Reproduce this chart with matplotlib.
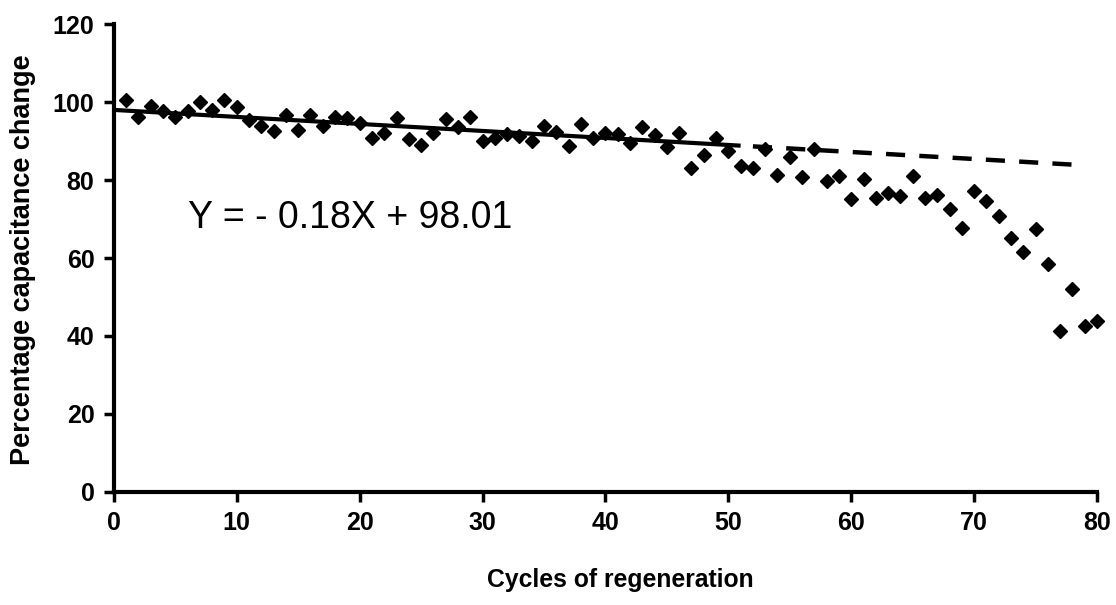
import matplotlib
matplotlib.use('Agg')
import matplotlib.pyplot as plt
import numpy as np

plt.rcParams['font.family'] = ['Liberation Sans', 'DejaVu Sans']

# capacitance retained after each regeneration cycle (%)
cycles = list(range(1, 81))
capacitance = [
    100.5, 96.2, 99.1, 97.7, 96.2, 97.7, 100.1, 97.9, 100.5, 98.8,
    95.4, 93.9, 92.6, 96.7, 92.8, 96.8, 93.9, 96.2, 96.0, 94.6,
    90.7, 92.0, 96.0, 90.5, 89.0, 92.0, 95.8, 93.7, 96.2, 90.0,
    90.7, 91.7, 91.4, 90.0, 93.9, 92.4, 88.8, 94.5, 90.7, 92.0,
    91.8, 89.4, 93.7, 91.5, 88.4, 92.1, 83.0, 86.4, 90.7, 87.5,
    83.6, 83.0, 88.1, 81.3, 86.0, 80.8, 87.9, 79.8, 81.0, 75.1,
    80.4, 75.3, 76.7, 75.9, 81.0, 75.3, 76.2, 72.7, 67.8, 77.3,
    74.7, 70.8, 65.1, 61.6, 67.4, 58.5, 41.4, 52.0, 42.6, 43.9,
]

# linear fit over the early cycles, extrapolated further as a dashed line
slope = -0.18
intercept = 98.01
fit_end = 51
extrap_start = 52
extrap_end = 78

fig = plt.figure(figsize=(11.16, 6.05), dpi=100)
ax = fig.add_axes([0.102, 0.187, 0.881, 0.773])

x_fit = np.array([0, fit_end])
x_ext = np.array([extrap_start, extrap_end])
ax.plot(x_fit, slope * x_fit + intercept, color='black', lw=3, solid_capstyle='butt')
ax.plot(x_ext, slope * x_ext + intercept, color='black', lw=3.2,
        dashes=(4.3, 3.2), dash_capstyle='butt')

ax.plot(cycles, capacitance, linestyle='none', marker='D', ms=6.8,
        color='black', clip_on=False)

ax.text(6.0, 70.3, 'Y = - 0.18X + 98.01', fontsize=27, va='center', ha='left')

ax.set_xlim(0, 80)
ax.set_ylim(0, 120)
ax.set_xticks(range(0, 81, 10))
ax.set_yticks(range(0, 121, 20))

for side in ['top', 'right']:
    ax.spines[side].set_visible(False)
for side in ['left', 'bottom']:
    ax.spines[side].set_linewidth(3)

ax.tick_params(axis='both', direction='out', width=2.5, length=7,
               labelsize=18)
ax.tick_params(axis='x', pad=7)
ax.tick_params(axis='y', pad=7)
for lbl in ax.get_xticklabels() + ax.get_yticklabels():
    lbl.set_fontweight('bold')

ax.set_xlabel('Cycles of regeneration', fontsize=17.8, fontweight='bold')
ax.set_ylabel('Percentage capacitance change', fontsize=19.5, fontweight='bold')
ax.xaxis.set_label_coords(0.515, -0.163)
ax.yaxis.set_label_coords(-0.079, 0.496)

fig.savefig('out.png', dpi=100)
